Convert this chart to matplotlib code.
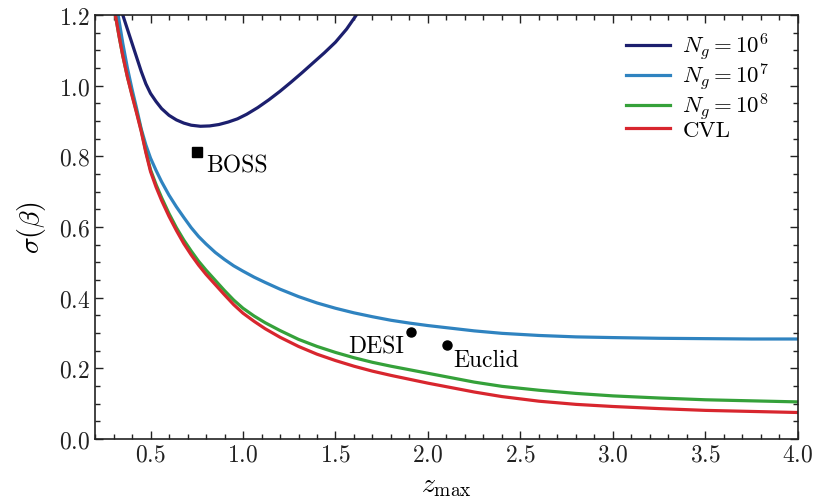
import numpy as np
import matplotlib
matplotlib.use("Agg")
import matplotlib.pyplot as plt
from matplotlib.ticker import MultipleLocator

plt.rcParams['font.family'] = 'serif'
plt.rcParams['font.serif'] = ['cmr10']
plt.rcParams['mathtext.fontset'] = 'cm'
plt.rcParams['axes.formatter.use_mathtext'] = True

# sigma(beta) vs z_max
x_1e6 = [0.35, 0.375, 0.40, 0.425, 0.45, 0.475, 0.50, 0.53, 0.56, 0.60, 0.64, 0.68, 0.72, 0.77, 0.82, 0.87,
         0.92, 0.97, 1.02, 1.08, 1.14, 1.20, 1.26, 1.32, 1.38, 1.44, 1.50, 1.56, 1.613]
y_1e6 = [1.20, 1.16, 1.12, 1.08, 1.04, 1.005, 0.978, 0.955, 0.935, 0.916, 0.903, 0.894, 0.888, 0.885, 0.886, 0.890,
         0.897, 0.906, 0.919, 0.938, 0.960, 0.984, 1.010, 1.037, 1.065, 1.093, 1.123, 1.160, 1.20]

x_1e7 = [0.325, 0.35, 0.375, 0.40, 0.425, 0.45, 0.475, 0.50, 0.53, 0.56, 0.60, 0.64, 0.68, 0.72, 0.76, 0.80, 0.85,
         0.90, 0.95, 1.00, 1.06, 1.12, 1.20, 1.30, 1.40, 1.50, 1.60, 1.70, 1.80, 1.90, 2.00, 2.10, 2.25, 2.40,
         2.60, 2.80, 3.00, 3.25, 3.50, 3.75, 4.00]
y_1e7 = [1.20, 1.12, 1.05, 0.99, 0.935, 0.877, 0.832, 0.795, 0.76, 0.728, 0.69, 0.657, 0.627, 0.598, 0.573, 0.552, 0.528,
         0.508, 0.490, 0.475, 0.458, 0.443, 0.424, 0.403, 0.385, 0.370, 0.357, 0.346, 0.336, 0.328, 0.321, 0.315, 0.306, 0.299,
         0.293, 0.289, 0.287, 0.285, 0.284, 0.283, 0.283]

x_1e8 = [0.31, 0.33, 0.35, 0.375, 0.40, 0.425, 0.45, 0.475, 0.50, 0.53, 0.56, 0.60, 0.64, 0.68, 0.72, 0.76, 0.80, 0.85,
         0.90, 0.95, 1.00, 1.06, 1.12, 1.20, 1.30, 1.40, 1.50, 1.60, 1.70, 1.80, 1.90, 2.00, 2.10, 2.25, 2.40,
         2.60, 2.80, 3.00, 3.25, 3.50, 3.75, 4.00]
y_1e8 = [1.20, 1.14, 1.085, 1.025, 0.975, 0.925, 0.873, 0.814, 0.762, 0.72, 0.683, 0.638, 0.598, 0.563, 0.532, 0.503, 0.478, 0.449,
         0.420, 0.393, 0.370, 0.348, 0.329, 0.307, 0.282, 0.262, 0.245, 0.230, 0.217, 0.206, 0.196, 0.186, 0.176, 0.161, 0.149,
         0.138, 0.129, 0.122, 0.116, 0.111, 0.108, 0.105]

x_cvl = [0.31, 0.33, 0.35, 0.375, 0.40, 0.425, 0.45, 0.475, 0.50, 0.53, 0.56, 0.60, 0.64, 0.68, 0.72, 0.76, 0.80, 0.85,
         0.90, 0.95, 1.00, 1.06, 1.12, 1.20, 1.30, 1.40, 1.50, 1.60, 1.70, 1.80, 1.90, 2.00, 2.10, 2.25, 2.40,
         2.60, 2.80, 3.00, 3.25, 3.50, 3.75, 4.00]
y_cvl = [1.20, 1.14, 1.085, 1.025, 0.972, 0.922, 0.870, 0.810, 0.757, 0.713, 0.675, 0.630, 0.590, 0.553, 0.521, 0.492, 0.466, 0.437,
         0.408, 0.380, 0.356, 0.333, 0.312, 0.288, 0.262, 0.240, 0.222, 0.206, 0.192, 0.180, 0.169, 0.158, 0.148, 0.133, 0.120,
         0.107, 0.098, 0.092, 0.086, 0.081, 0.078, 0.075]

surveys = ["BOSS", "DESI", "Euclid"]
survey_z = [0.753, 1.908, 2.105]
survey_sigma = [0.812, 0.302, 0.266]

fig = plt.figure(figsize=(8.17, 5.02), dpi=100)
ax = fig.add_axes([0.1163, 0.1235, 0.8604, 0.8447])

ax.plot(x_1e6, y_1e6, color='#1c1f6e', lw=2.3, label=r'$N_g = 10^6$')
ax.plot(x_1e7, y_1e7, color='#2f83c0', lw=2.3, label=r'$N_g = 10^7$')
ax.plot(x_1e8, y_1e8, color='#35a13a', lw=2.3, label=r'$N_g = 10^8$')
ax.plot(x_cvl, y_cvl, color='#d8262e', lw=2.3, label='CVL')

ax.plot(survey_z[0], survey_sigma[0], 's', color='black', ms=6.5)
ax.plot(survey_z[1:], survey_sigma[1:], 'o', color='black', ms=6.5, ls='none')

ax.text(0.803, 0.756, surveys[0], fontsize=17, ha='left', va='baseline')
ax.text(1.868, 0.246, surveys[1], fontsize=17, ha='right', va='baseline')
ax.text(2.138, 0.208, surveys[2], fontsize=17, ha='left', va='baseline')

ax.set_xlim(0.2, 4.0)
ax.set_ylim(0.0, 1.2)
ax.xaxis.set_major_locator(MultipleLocator(0.5))
ax.xaxis.set_minor_locator(MultipleLocator(0.1))
ax.yaxis.set_major_locator(MultipleLocator(0.2))
ax.yaxis.set_minor_locator(MultipleLocator(0.05))
ax.tick_params(which='both', direction='in', top=True, right=True, labelsize=17, width=1.0, colors='#222222')
ax.tick_params(which='major', length=6)
ax.tick_params(which='minor', length=3.5)
for s in ax.spines.values():
    s.set_linewidth(1.2)
    s.set_color('#222222')

ax.set_xlabel(r'$z_{\rm max}$', fontsize=20, labelpad=4)
ax.set_ylabel(r'$\sigma(\beta)$', fontsize=20, labelpad=8)

ax.legend(loc='upper left', bbox_to_anchor=(0.755, 0.962), frameon=False, fontsize=16.5,
          handlelength=1.95, handletextpad=0.52, labelspacing=-0.07,
          borderaxespad=0, borderpad=0)

fig.savefig("out.png", dpi=100)
